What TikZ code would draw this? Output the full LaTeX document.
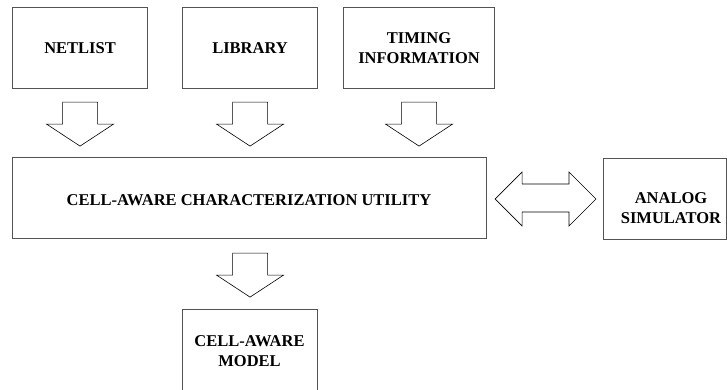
\documentclass[tikz,border=0pt]{standalone}
\usepackage{fontspec}
\setmainfont{Liberation Serif}
\usetikzlibrary{calc}
\begin{document}
\begin{tikzpicture}[x=1pt,y=-1pt,
  box/.style={draw=gray!65!black, line width=1.1pt, rectangle, inner sep=0pt},
  lbl/.style={font=\bfseries\fontsize{16.5}{20}\selectfont, align=center, inner sep=0pt},
  blockarrow/.style={draw=black, line width=0.6pt, line join=miter, fill=white},
  pics/dnarrow/.style={code={
    \draw[blockarrow] (-17.5,0) -- (17.5,0) -- (17.5,22) -- (33.5,22) -- (0,44)
      -- (-33.5,22) -- (-17.5,22) -- cycle;}}
]
\useasboundingbox (0,0) rectangle (727,389);
% top boxes
\node[box, minimum width=135, minimum height=81, anchor=north west] (net) at (12,7) {};
\node[lbl] (netl) at (net.center) {NETLIST};
\node[box, minimum width=135, minimum height=81, anchor=north west] (lib) at (182,7) {};
\node[lbl] (libl) at (lib.center) {LIBRARY};
\node[box, minimum width=151, minimum height=81, anchor=north west] (tim) at (343,7) {};
\node[lbl] (timl) at (tim.center) {TIMING\\INFORMATION};
% main box
\node[box, minimum width=474, minimum height=81, anchor=north west] (util) at (12,157) {};
\node[lbl, anchor=base] (utill) at (249,205) {CELL-AWARE CHARACTERIZATION UTILITY};
% analog simulator
\node[box, minimum width=123, minimum height=81, anchor=north west] (sim) at (603,158) {};
\node[lbl] (siml) at (671,208) {ANALOG\\SIMULATOR};
% model
\node[box, minimum width=135, minimum height=100, anchor=north west] (mod) at (182,309) {};
\node[lbl] (modl) at (249.5,351) {CELL-AWARE\\MODEL};
% down arrows
\coordinate (a1) at ([yshift=-13]net.south);
\coordinate (a2) at ([yshift=-13]lib.south);
\coordinate (a3) at ([yshift=-13]tim.south);
\coordinate (a4) at ([yshift=-14]util.south -| mod.north);
\pic at (a1) {dnarrow};
\pic at (a2) {dnarrow};
\pic at (a3) {dnarrow};
\pic at (a4) {dnarrow};
% double arrow
\coordinate (dl) at ([xshift=8]util.east |- 0,199);
\coordinate (dr) at ([xshift=-7]sim.west |- 0,199);
\draw[blockarrow] (dl) -- ($(dl)+(27,-27)$) -- ($(dl)+(27,-15)$) -- ($(dr)+(-27,-15)$)
  -- ($(dr)+(-27,-27)$) -- (dr) -- ($(dr)+(-27,27)$) -- ($(dr)+(-27,13)$)
  -- ($(dl)+(27,13)$) -- ($(dl)+(27,27)$) -- cycle;
\end{tikzpicture}
\end{document}
